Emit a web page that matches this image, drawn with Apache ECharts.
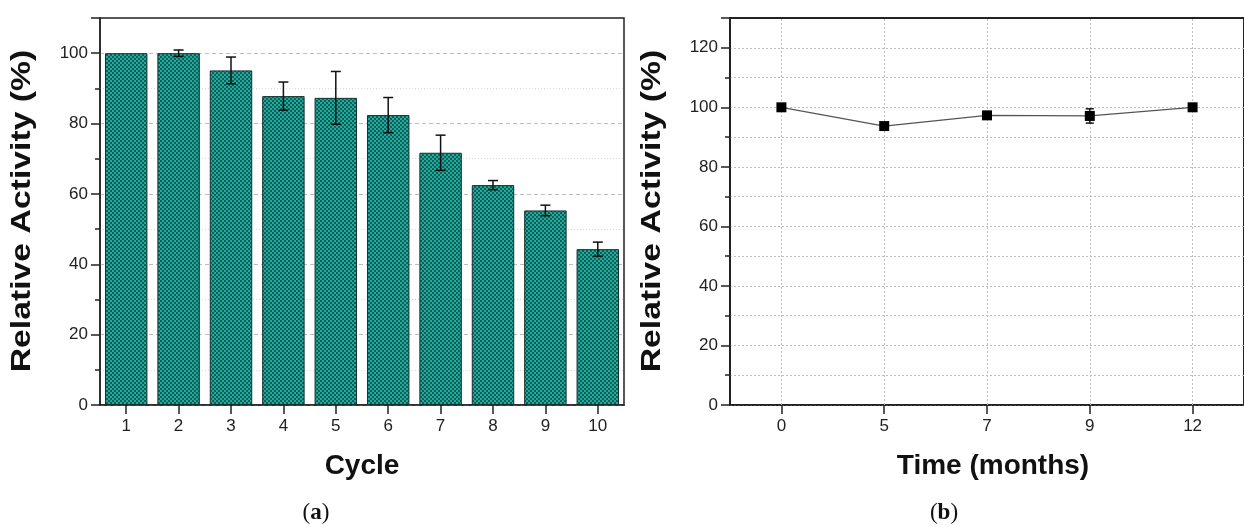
<!DOCTYPE html>
<html>
<head>
<meta charset="utf-8">
<script src="https://cdn.jsdelivr.net/npm/echarts@6/dist/echarts.min.js"></script>
<style>
  html, body { margin: 0; padding: 0; background: #fff; }
  #chart { width: 1244px; height: 527px; }
</style>
</head>
<body>
<div id="chart"></div>
<script>
// Panel (a): reusability over repeated cycles
const cycles = ['1', '2', '3', '4', '5', '6', '7', '8', '9', '10'];
const cycleActivity = [100, 100, 95.1, 87.8, 87.3, 82.4, 71.7, 62.5, 55.3, 44.3];
const cycleError = [0, 0.9, 3.8, 4.0, 7.5, 5.0, 5.0, 1.3, 1.5, 2.0];

// Panel (b): storage stability over time
const months = ['0', '5', '7', '9', '12'];
const storageActivity = [100, 93.7, 97.3, 97.1, 100.0];
const storageError = [0.6, 0.6, 1.0, 2.4, 1.0];

// Checkered teal fill for the bars
function makeCheckerPattern() {
  const c = document.createElement('canvas');
  c.width = 4; c.height = 4;
  const ctx = c.getContext('2d');
  ctx.fillStyle = '#1fab9e';
  ctx.fillRect(0, 0, 4, 4);
  ctx.fillStyle = '#0f5e57';
  ctx.fillRect(0, 0, 2, 2);
  ctx.fillRect(2, 2, 2, 2);
  return c;
}

const sansFont = 'Liberation Sans, Arial, sans-serif';
const serifFont = 'Liberation Serif, Times New Roman, serif';
const labelStyle = { fontFamily: sansFont, fontSize: 17, color: '#222' };
const axisLine = { show: true, lineStyle: { color: '#222', width: 1.5 } };
const tickStyle = { color: '#222', width: 1.5 };
const gridDot = { color: '#bdbdbd', type: [2, 2], width: 1 };

function errorBarSeries(xIndex, yIndex, values, errors, capHalf) {
  return {
    type: 'custom',
    xAxisIndex: xIndex,
    yAxisIndex: yIndex,
    z: 5,
    data: values.map((v, i) => [i, v, errors[i]]),
    renderItem: function (params, api) {
      const i = api.value(0), v = api.value(1), e = api.value(2);
      if (!e) return null;
      const hi = api.coord([i, v + e]);
      const lo = api.coord([i, v - e]);
      const st = { stroke: '#111', lineWidth: 1.5 };
      return {
        type: 'group',
        children: [
          { type: 'line', shape: { x1: hi[0], y1: hi[1], x2: lo[0], y2: lo[1] }, style: st },
          { type: 'line', shape: { x1: hi[0] - capHalf, y1: hi[1], x2: hi[0] + capHalf, y2: hi[1] }, style: st },
          { type: 'line', shape: { x1: lo[0] - capHalf, y1: lo[1], x2: lo[0] + capHalf, y2: lo[1] }, style: st }
        ]
      };
    }
  };
}

// Bold axis title; vertical ones are drawn a little elongated along their length
function axisTitle(text, x, y, vertical) {
  return {
    type: 'text', x: x, y: y,
    rotation: vertical ? Math.PI / 2 : 0,
    scaleX: vertical ? 1.25 : 1,
    style: {
      text: text, fontFamily: sansFont, fontSize: vertical ? 27 : 28, fontWeight: 'bold',
      fill: '#111', align: 'center', verticalAlign: 'middle'
    }
  };
}

function panelLetter(letter, x, y) {
  return {
    type: 'text', x: x, y: y,
    style: {
      text: '{p|(}{b|' + letter + '}{p|)}', align: 'center', verticalAlign: 'middle',
      rich: {
        p: { fontFamily: serifFont, fontSize: 23, fill: '#111' },
        b: { fontFamily: serifFont, fontSize: 23, fontWeight: 'bold', fill: '#111' }
      }
    }
  };
}

const chart = echarts.init(document.getElementById('chart'), null, { renderer: 'canvas' });

chart.setOption({
  animation: false,
  backgroundColor: '#fff',
  grid: [
    { left: 100, top: 18, width: 524, height: 387, show: true, borderColor: '#222', borderWidth: 1.5, backgroundColor: 'transparent' },
    { left: 730, top: 18, width: 525, height: 387, show: true, borderColor: '#222', borderWidth: 2, backgroundColor: 'transparent' }
  ],
  xAxis: [
    {
      type: 'category', gridIndex: 0, data: cycles, boundaryGap: true,
      axisLine: axisLine,
      axisTick: { show: true, alignWithLabel: true, length: 9, lineStyle: tickStyle },
      axisLabel: Object.assign({ margin: 13 }, labelStyle),
      splitLine: { show: false }
    },
    {
      type: 'category', gridIndex: 1, data: months, boundaryGap: true,
      axisLine: axisLine,
      axisTick: { show: true, alignWithLabel: true, length: 9, lineStyle: tickStyle },
      axisLabel: Object.assign({ margin: 13 }, labelStyle),
      splitLine: { show: false }
    }
  ],
  yAxis: [
    {
      type: 'value', gridIndex: 0, min: 0, max: 110, interval: 20,
      axisLine: axisLine,
      axisTick: { show: true, length: 9, lineStyle: tickStyle },
      minorTick: { show: true, splitNumber: 2, length: 5, lineStyle: tickStyle },
      axisLabel: Object.assign({ margin: 12, showMaxLabel: false }, labelStyle),
      splitLine: { show: true, showMaxLine: false, lineStyle: { color: '#bdbdbd', type: [4, 3], width: 1 } },
      minorSplitLine: { show: true, lineStyle: { color: '#d9d9d9', type: [1, 2], width: 1 } }
    },
    {
      type: 'value', gridIndex: 1, min: 0, max: 130, interval: 20,
      axisLine: axisLine,
      axisTick: { show: true, length: 9, lineStyle: tickStyle },
      minorTick: { show: true, splitNumber: 2, length: 5, lineStyle: tickStyle },
      axisLabel: Object.assign({ margin: 12, showMaxLabel: false }, labelStyle),
      splitLine: { show: true, showMaxLine: false, lineStyle: gridDot },
      minorSplitLine: { show: true, lineStyle: gridDot }
    }
  ],
  series: [
    {
      type: 'bar', xAxisIndex: 0, yAxisIndex: 0,
      data: cycleActivity,
      barCategoryGap: '19%',
      itemStyle: {
        color: { image: makeCheckerPattern(), repeat: 'repeat' },
        borderColor: '#16302e', borderWidth: 1
      }
    },
    errorBarSeries(0, 0, cycleActivity, cycleError, 5),
    {
      // vertical dotted grid at each storage time
      type: 'line', xAxisIndex: 1, yAxisIndex: 1, data: [], z: 1,
      markLine: {
        silent: true, symbol: 'none', label: { show: false },
        lineStyle: gridDot,
        data: months.map(m => ({ xAxis: m }))
      }
    },
    {
      type: 'line', xAxisIndex: 1, yAxisIndex: 1,
      data: storageActivity,
      symbol: 'rect', symbolSize: 10,
      itemStyle: { color: '#000' },
      lineStyle: { color: '#555', width: 1.2 },
      z: 6
    },
    errorBarSeries(1, 1, storageActivity, storageError, 4)
  ],
  graphic: [
    axisTitle('Relative Activity (%)', 23, 211, true),
    axisTitle('Relative Activity (%)', 653, 211, true),
    axisTitle('Cycle', 362, 466, false),
    axisTitle('Time (months)', 993, 466, false),
    panelLetter('a', 316, 513),
    panelLetter('b', 944, 513)
  ]
});
</script>
</body>
</html>
